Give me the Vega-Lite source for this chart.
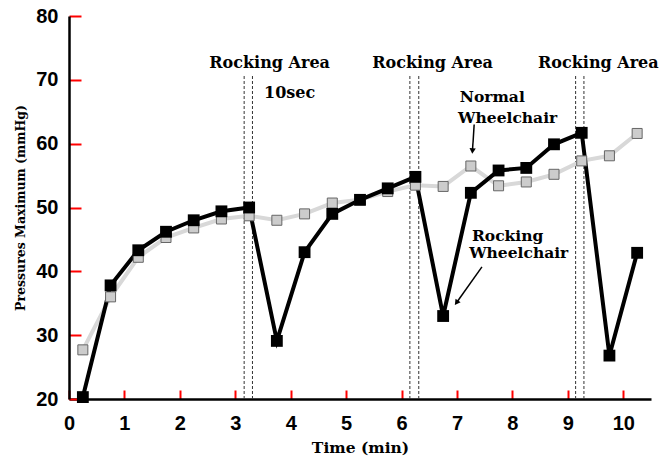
{
  "$schema": "https://vega.github.io/schema/vega-lite/v6.json",
  "width": 582,
  "height": 383,
  "autosize": {"type": "none"},
  "padding": {"left": 69, "top": 16, "right": 9, "bottom": 60},
  "background": "white",
  "config": {"view": {"stroke": null}},
  "datasets": {
    "series": [
      {"t": 0.25, "p": 20.3, "s": "Rocking"}, {"t": 0.75, "p": 37.8, "s": "Rocking"},
      {"t": 1.25, "p": 43.3, "s": "Rocking"}, {"t": 1.75, "p": 46.2, "s": "Rocking"},
      {"t": 2.25, "p": 48.0, "s": "Rocking"}, {"t": 2.75, "p": 49.4, "s": "Rocking"},
      {"t": 3.25, "p": 50.0, "s": "Rocking"}, {"t": 3.75, "p": 29.1, "s": "Rocking"},
      {"t": 4.25, "p": 43.0, "s": "Rocking"}, {"t": 4.75, "p": 49.0, "s": "Rocking"},
      {"t": 5.25, "p": 51.2, "s": "Rocking"}, {"t": 5.75, "p": 53.0, "s": "Rocking"},
      {"t": 6.25, "p": 54.8, "s": "Rocking"}, {"t": 6.75, "p": 33.0, "s": "Rocking"},
      {"t": 7.25, "p": 52.3, "s": "Rocking"}, {"t": 7.75, "p": 55.8, "s": "Rocking"},
      {"t": 8.25, "p": 56.2, "s": "Rocking"}, {"t": 8.75, "p": 59.9, "s": "Rocking"},
      {"t": 9.25, "p": 61.7, "s": "Rocking"}, {"t": 9.75, "p": 26.8, "s": "Rocking"},
      {"t": 10.25, "p": 42.9, "s": "Rocking"},
      {"t": 0.25, "p": 27.7, "s": "Normal"}, {"t": 0.75, "p": 36.0, "s": "Normal"},
      {"t": 1.25, "p": 42.2, "s": "Normal"}, {"t": 1.75, "p": 45.3, "s": "Normal"},
      {"t": 2.25, "p": 46.8, "s": "Normal"}, {"t": 2.75, "p": 48.2, "s": "Normal"},
      {"t": 3.25, "p": 48.7, "s": "Normal"}, {"t": 3.75, "p": 48.0, "s": "Normal"},
      {"t": 4.25, "p": 49.0, "s": "Normal"}, {"t": 4.75, "p": 50.7, "s": "Normal"},
      {"t": 5.25, "p": 51.2, "s": "Normal"}, {"t": 5.75, "p": 52.5, "s": "Normal"},
      {"t": 6.25, "p": 53.5, "s": "Normal"}, {"t": 6.75, "p": 53.3, "s": "Normal"},
      {"t": 7.25, "p": 56.5, "s": "Normal"}, {"t": 7.75, "p": 53.4, "s": "Normal"},
      {"t": 8.25, "p": 54.0, "s": "Normal"}, {"t": 8.75, "p": 55.2, "s": "Normal"},
      {"t": 9.25, "p": 57.3, "s": "Normal"}, {"t": 9.75, "p": 58.1, "s": "Normal"},
      {"t": 10.25, "p": 61.6, "s": "Normal"}
    ],
    "bounds": [
      {"t": 3.16, "lo": 20, "hi": 70.7}, {"t": 3.31, "lo": 20, "hi": 70.7},
      {"t": 6.15, "lo": 20, "hi": 70.7}, {"t": 6.31, "lo": 20, "hi": 70.7},
      {"t": 9.14, "lo": 20, "hi": 70.7}, {"t": 9.29, "lo": 20, "hi": 70.7}
    ],
    "areaLabels": [
      {"t": 3.62, "p": 72.7, "label": "Rocking Area"},
      {"t": 6.56, "p": 72.7, "label": "Rocking Area"},
      {"t": 9.55, "p": 72.7, "label": "Rocking Area"},
      {"t": 3.98, "p": 68.0, "label": "10sec"}
    ],
    "notes": [
      {"t": 7.05, "p": 67.3, "label": "Normal"},
      {"t": 7.02, "p": 64.0, "label": "Wheelchair"},
      {"t": 7.27, "p": 45.6, "label": "Rocking"},
      {"t": 7.22, "p": 42.8, "label": "Wheelchair"}
    ],
    "arrow1": [{"t": 7.31, "p": 63.0, "t2": 7.28, "p2": 59.0}],
    "arrow2": [{"t": 7.45, "p": 40.7, "t2": 7.0, "p2": 35.2}]
  },
  "layer": [
    {
      "data": {"name": "bounds"},
      "mark": {"type": "rule", "color": "#333333", "strokeWidth": 1, "strokeDash": [3, 2]},
      "encoding": {
        "x": {"field": "t", "type": "quantitative", "scale": {"domain": [0, 10.5], "nice": false},
          "axis": {
            "title": "Time (min)",
            "values": [0, 0.5, 1, 1.5, 2, 2.5, 3, 3.5, 4, 4.5, 5, 5.5, 6, 6.5, 7, 7.5, 8, 8.5, 9, 9.5, 10, 10.5],
            "format": "d",
            "labelExpr": "datum.value % 1 === 0 ? datum.label : ''",
            "grid": false, "domainColor": "black", "domainWidth": 2.5,
            "tickColor": "red", "tickWidth": 2, "tickSize": -9,
            "labelPadding": 23, "labelFont": "Liberation Sans", "labelFontSize": 20, "labelFontWeight": "bold",
            "labelColor": "black", "labelFlush": false, "labelOverlap": false,
            "titleFont": "DejaVu Serif", "titleFontSize": 15.5, "titleFontWeight": "bold", "titleColor": "black",
            "titlePadding": 7
          }},
        "y": {"field": "lo", "type": "quantitative", "scale": {"domain": [20, 80], "nice": false},
          "axis": {
            "title": "Pressures Maximum (mmHg)",
            "values": [20, 30, 40, 50, 60, 70, 80],
            "grid": false, "domainColor": "black", "domainWidth": 2.5,
            "tickColor": "red", "tickWidth": 2, "tickSize": -12,
            "labelPadding": 23, "labelFont": "Liberation Sans", "labelFontSize": 20, "labelFontWeight": "bold",
            "labelColor": "black",
            "titleFont": "DejaVu Serif", "titleFontSize": 12.5, "titleFontWeight": "bold", "titleColor": "black",
            "titlePadding": 8
          }},
        "y2": {"field": "hi"}
      }
    },
    {
      "data": {"name": "series"},
      "transform": [{"filter": "datum.s === 'Normal'"}],
      "mark": {"type": "line", "color": "#d8d8d8", "strokeWidth": 4},
      "encoding": {"x": {"field": "t", "type": "quantitative"}, "y": {"field": "p", "type": "quantitative"}}
    },
    {
      "data": {"name": "series"},
      "transform": [{"filter": "datum.s === 'Rocking'"}],
      "mark": {"type": "line", "color": "black", "strokeWidth": 4},
      "encoding": {"x": {"field": "t", "type": "quantitative"}, "y": {"field": "p", "type": "quantitative"}}
    },
    {
      "data": {"name": "series"},
      "transform": [{"filter": "datum.s === 'Normal'"}],
      "mark": {"type": "point", "shape": "square", "filled": true, "fill": "#cccccc", "stroke": "#666666", "strokeWidth": 1, "size": 100, "opacity": 1},
      "encoding": {"x": {"field": "t", "type": "quantitative"}, "y": {"field": "p", "type": "quantitative"}}
    },
    {
      "data": {"name": "series"},
      "transform": [{"filter": "datum.s === 'Rocking'"}],
      "mark": {"type": "point", "shape": "square", "filled": true, "color": "black", "size": 140, "opacity": 1},
      "encoding": {"x": {"field": "t", "type": "quantitative"}, "y": {"field": "p", "type": "quantitative"}}
    },
    {
      "data": {"name": "areaLabels"},
      "mark": {"type": "text", "font": "DejaVu Serif", "fontSize": 16, "fontWeight": "bold", "color": "black", "align": "center", "baseline": "middle"},
      "encoding": {"x": {"field": "t", "type": "quantitative"}, "y": {"field": "p", "type": "quantitative"}, "text": {"field": "label"}}
    },
    {
      "data": {"name": "notes"},
      "mark": {"type": "text", "font": "DejaVu Serif", "fontSize": 15.5, "fontWeight": "bold", "color": "black", "align": "left", "baseline": "middle"},
      "encoding": {"x": {"field": "t", "type": "quantitative"}, "y": {"field": "p", "type": "quantitative"}, "text": {"field": "label"}}
    },
    {
      "data": {"name": "arrow1"},
      "mark": {"type": "rule", "color": "black", "strokeWidth": 1.5},
      "encoding": {"x": {"field": "t", "type": "quantitative"}, "y": {"field": "p", "type": "quantitative"}, "x2": {"field": "t2"}, "y2": {"field": "p2"}}
    },
    {
      "data": {"name": "arrow1"},
      "mark": {"type": "point", "shape": "triangle", "filled": true, "color": "black", "size": 40, "angle": 184, "opacity": 1},
      "encoding": {"x": {"field": "t2", "type": "quantitative"}, "y": {"field": "p2", "type": "quantitative"}}
    },
    {
      "data": {"name": "arrow2"},
      "mark": {"type": "rule", "color": "black", "strokeWidth": 1.5},
      "encoding": {"x": {"field": "t", "type": "quantitative"}, "y": {"field": "p", "type": "quantitative"}, "x2": {"field": "t2"}, "y2": {"field": "p2"}}
    },
    {
      "data": {"name": "arrow2"},
      "mark": {"type": "point", "shape": "triangle", "filled": true, "color": "black", "size": 40, "angle": 216, "opacity": 1},
      "encoding": {"x": {"field": "t2", "type": "quantitative"}, "y": {"field": "p2", "type": "quantitative"}}
    }
  ]
}
